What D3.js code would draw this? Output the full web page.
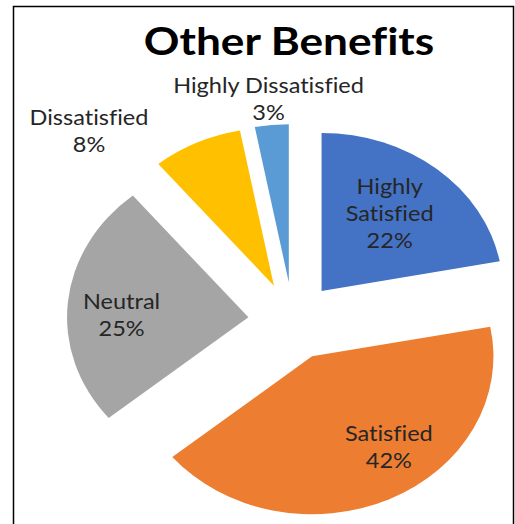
<!DOCTYPE html>
<html>
<head>
<meta charset="utf-8">
<script src="https://cdn.jsdelivr.net/npm/d3@7/dist/d3.min.js"></script>
<style>
  html, body { margin: 0; padding: 0; background: #fff; }
  svg { display: block; }
  text { font-family: Lato, "Open Sans", sans-serif; font-variant-ligatures: none; font-feature-settings: "liga" 0; }
</style>
</head>
<body>
<svg id="chart" width="515" height="524"></svg>
<script>
// Survey results: satisfaction with other benefits
const categories = ["Highly Satisfied", "Satisfied", "Neutral", "Dissatisfied", "Highly Dissatisfied"];
const percentages = [22, 42, 25, 8, 3];
const colors = ["#4472C4", "#ED7D31", "#A5A5A5", "#FFC000", "#5B9BD5"];
const chartTitle = "Other Benefits";

// Layout
const cx = 293, cy = 321;       // pie centre
const radius = 158;             // vertical radius
const stretchX = 1.148;         // horizontal stretch of the whole chart
const explode = 39;             // outward offset of every slice
const labelFont = 20.5;
const lineHeight = 27;

// Where each label sits relative to its exploded slice (fraction of radius, angle nudge in degrees)
// or, for labels placed outside the pie, absolute anchor positions.
const labelPlacement = [
  { inside: true, frac: 0.63, dAngle: -3 },
  { inside: true, frac: 0.70, dAngle: -12 },
  { inside: true, frac: 0.70, dAngle: -3 },
  { inside: false, x: 89, y: 125 },
  { inside: false, x: 268.5, y: 93 }
];

const svg = d3.select("#chart");

// chart frame
svg.append("rect")
  .attr("x", 13.5).attr("y", 6.5)
  .attr("width", 500).attr("height", 540)
  .attr("fill", "none").attr("stroke", "#000").attr("stroke-width", 1.5);

const data = categories.map((c, i) => ({ category: c, value: percentages[i], color: colors[i] }));

const pie = d3.pie().sort(null).value(d => d.value);
const arcs = pie(data);
const arc = d3.arc().innerRadius(0).outerRadius(radius);

const pieG = svg.append("g")
  .attr("transform", `translate(${cx},${cy}) scale(${stretchX},1)`);

pieG.selectAll("path.slice")
  .data(arcs)
  .join("path")
  .attr("class", "slice")
  .attr("fill", d => d.data.color)
  .attr("transform", d => {
    const a = (d.startAngle + d.endAngle) / 2;
    return `translate(${explode * Math.sin(a)},${-explode * Math.cos(a)})`;
  })
  .attr("d", arc);

// labels
const fmt = d => d.data.value + "%";
arcs.forEach((d, i) => {
  const p = labelPlacement[i];
  let x, y0, lines;
  if (p.inside) {
    const mid = (d.startAngle + d.endAngle) / 2;
    const a = mid + p.dAngle * Math.PI / 180;
    const ux = explode * Math.sin(mid) + p.frac * radius * Math.sin(a);
    const uy = -explode * Math.cos(mid) - p.frac * radius * Math.cos(a);
    x = cx + ux * stretchX;
    const y = cy + uy;
    lines = d.data.category.split(" ").concat([fmt(d)]);
    // vertical centre of the text block at y
    y0 = y - (lines.length - 1) * lineHeight / 2 + labelFont * 0.5;
  } else {
    x = p.x; y0 = p.y;
    lines = [d.data.category, fmt(d)];
  }
  const g = svg.append("g")
    .attr("transform", `translate(${x},${y0}) scale(${stretchX},1)`);
  g.selectAll("text")
    .data(lines)
    .join("text")
    .attr("x", 0)
    .attr("y", (t, k) => k * lineHeight)
    .attr("text-anchor", "middle")
    .attr("font-size", labelFont)
    .attr("fill", "#262626")
    .text(t => t);
});

// title
svg.append("g")
  .attr("transform", `translate(289,55) scale(${stretchX},1)`)
  .append("text")
  .attr("text-anchor", "middle")
  .attr("font-size", 38.5)
  .attr("font-weight", "bold")
  .attr("fill", "#000")
  .text(chartTitle);
</script>
</body>
</html>
